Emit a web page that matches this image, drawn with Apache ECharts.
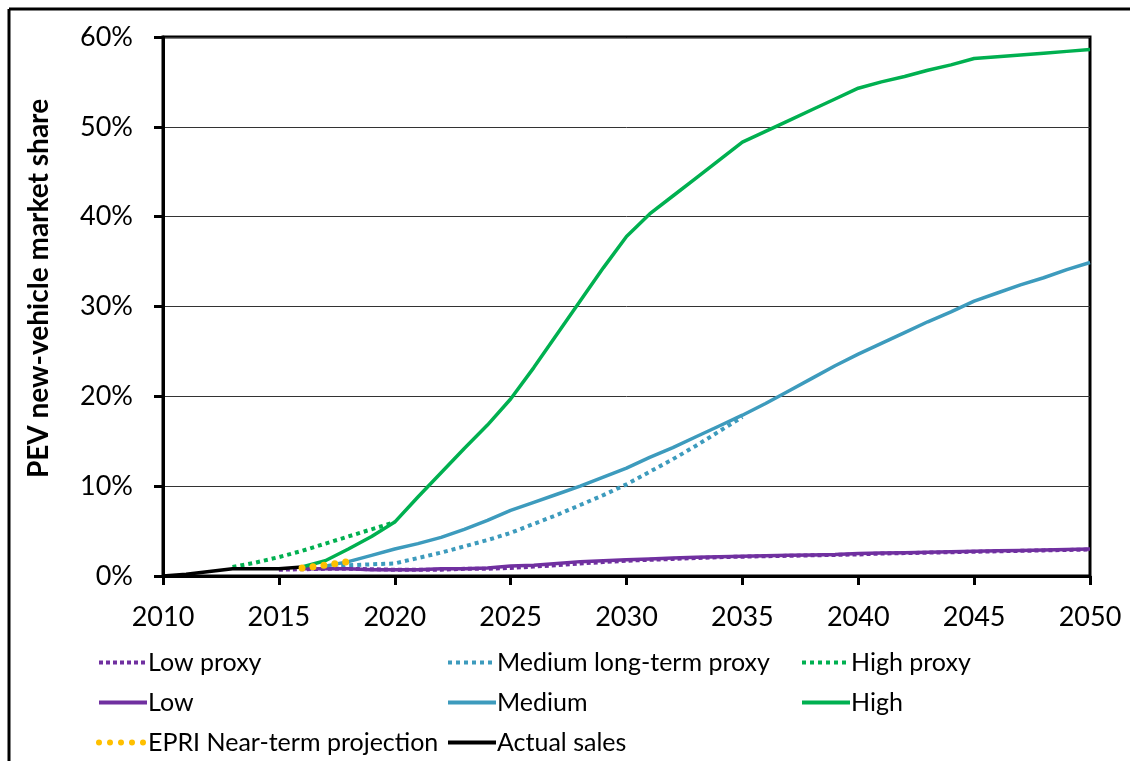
<!DOCTYPE html>
<html>
<head>
<meta charset="utf-8">
<script src="https://cdn.jsdelivr.net/npm/echarts@6/dist/echarts.min.js"></script>
<style>
  html, body { margin:0; padding:0; background:#fff; }
  #chart { width:1130px; height:761px; }
</style>
</head>
<body>
<div id="chart"></div>
<script>
// data, [year, share %]
var years = [2010,2011,2012,2013,2014,2015,2016,2017,2018,2019,2020,2021,2022,2023,2024,2025,2026,2027,2028,2029,2030,
  2031,2032,2033,2034,2035,2036,2037,2038,2039,2040,2041,2042,2043,2044,2045,2046,2047,2048,2049,2050];

var actualYears = [2010,2011,2012,2013,2014,2015,2016];
var actualSales = [0,0.2,0.5,0.8,0.8,0.8,1.0];

var epriYears = [2016,2017,2018];
var epriNearTerm = [0.9,1.2,1.6];

var highProxyYears = [2013,2014,2015,2016,2017,2018,2019,2020];
var highProxy = [1.0,1.5,2.1,2.8,3.6,4.4,5.2,6.0];

// High from 2016
var high = [1.0,1.7,3.0,4.4,6.0,8.8,11.5,14.2,16.8,19.7,23.2,26.9,30.6,34.3,37.8,
  40.3,42.3,44.3,46.3,48.3,49.5,50.7,51.9,53.1,54.3,55.0,55.6,56.3,56.9,57.6,57.8,58.0,58.2,58.4,58.6];

// Medium from 2017
var medium = [1.1,1.6,2.3,3.0,3.6,4.3,5.2,6.2,7.3,8.2,9.1,10.0,11.0,12.0,
  13.2,14.3,15.5,16.7,17.9,19.2,20.6,22.0,23.4,24.7,25.9,27.1,28.3,29.4,30.6,31.5,32.4,33.2,34.1,34.9];

// Medium long-term proxy from 2017 to 2035
var mediumProxy = [1.1,1.2,1.3,1.4,2.0,2.6,3.3,4.0,4.8,5.8,6.8,7.9,9.0,10.2,11.6,13.0,14.5,16.1,17.7];

// Low from 2016
var low = [0.8,0.8,0.8,0.7,0.7,0.7,0.8,0.8,0.9,1.1,1.2,1.4,1.6,1.7,1.8,
  1.9,2.0,2.1,2.15,2.2,2.25,2.3,2.35,2.4,2.5,2.55,2.6,2.65,2.7,2.75,2.8,2.85,2.9,2.95,3.0];

// Low proxy from 2015
var lowProxy = [0.7,0.75,0.8,0.8,0.75,0.7,0.7,0.7,0.8,0.8,0.9,1.05,1.2,1.4,1.55,1.7,1.8,
  1.9,2.0,2.1,2.15,2.2,2.25,2.3,2.35,2.4,2.5,2.55,2.6,2.65,2.7,2.75,2.8,2.85,2.9,2.95,3.05];

function pairs(xs, vs) {
  return vs.map(function(v, i){ return [xs[i], v]; });
}
function from(startYear, vs) {
  var s = years.indexOf(startYear);
  return pairs(years.slice(s), vs);
}

var green = '#00b050', blue = '#3d9bbd', purple = '#7030a0', gold = '#ffc000';
var font = 'Lato';

function lineSeries(name, data, color, type, width, z) {
  return {
    name: name, type: 'line', data: data, symbol: 'none', smooth: false, z: z,
    lineStyle: { color: color, width: width, type: type },
    itemStyle: { color: color }
  };
}

var series = [
  lineSeries('Low proxy', from(2015, lowProxy), purple, [4, 3], 4, 3),
  lineSeries('Medium long-term proxy', from(2017, mediumProxy), blue, [4, 4], 4, 3),
  lineSeries('High proxy', pairs(highProxyYears, highProxy), green, [4, 4], 4, 3),
  lineSeries('Low', from(2016, low), purple, 'solid', 3.5, 4),
  lineSeries('Medium', from(2017, medium), blue, 'solid', 3.5, 4),
  lineSeries('High', from(2016, high), green, 'solid', 3.5, 4),
  lineSeries('EPRI Near-term projection', pairs(epriYears, epriNearTerm), gold, [0, 11], 7, 10),
  lineSeries('Actual sales', pairs(actualYears, actualSales), '#000', 'solid', 3.5, 5)
];
series[6].lineStyle.cap = 'round';

function legendCol(left, names) {
  return {
    left: left, top: 650, orient: 'vertical', itemGap: 15, padding: 0,
    itemWidth: 48, itemHeight: 10,
    itemStyle: { opacity: 0 },
    lineStyle: { width: 4 },
    textStyle: { fontFamily: font, fontSize: 25, color: '#000', padding: [0, 0, 0, -4] },
    data: names.map(function(n){
      return n === 'EPRI Near-term projection' ? { name: n, lineStyle: { width: 6, cap: 'round', type: [0, 11] } } : n;
    })
  };
}

var chart = echarts.init(document.getElementById('chart'));
chart.setOption({
  animation: false,
  backgroundColor: '#fff',
  textStyle: { fontFamily: font },
  graphic: [
    { type: 'line', shape: { x1: 9, y1: 9, x2: 1130, y2: 9 }, style: { stroke: '#000', lineWidth: 3 } },
    { type: 'line', shape: { x1: 9, y1: 9, x2: 9, y2: 761 }, style: { stroke: '#000', lineWidth: 3 } }
  ],
  legend: [
    legendCol(96, ['Low proxy', 'Low', 'EPRI Near-term projection']),
    legendCol(446, ['Medium long-term proxy', 'Medium', 'Actual sales']),
    legendCol(800, ['High proxy', 'High'])
  ],
  grid: {
    left: 163, right: 40, top: 37, bottom: 185,
    show: true, borderColor: '#000', borderWidth: 3, backgroundColor: 'transparent'
  },
  xAxis: {
    type: 'value', min: 2010, max: 2050, interval: 5,
    axisLine: { show: true, lineStyle: { color: '#000', width: 3 } },
    axisTick: { show: true, inside: false, length: 9, lineStyle: { color: '#000', width: 3 } },
    axisLabel: { color: '#000', fontSize: 27, fontFamily: font, margin: 28,
      formatter: function(v){ return String(v); } },
    splitLine: { show: false }
  },
  yAxis: {
    type: 'value', min: 0, max: 60, interval: 10,
    name: 'PEV new-vehicle market share', nameLocation: 'middle', nameGap: 110,
    nameTextStyle: { color: '#000', fontSize: 28, fontWeight: 'bold', fontFamily: font, padding: [0, 0, 0, 36] },
    axisLine: { show: true, lineStyle: { color: '#000', width: 3 } },
    axisTick: { show: true, inside: false, length: 9, lineStyle: { color: '#000', width: 3 } },
    axisLabel: { color: '#000', fontSize: 27, fontFamily: font, margin: 30, formatter: '{value}%' },
    splitLine: { show: true, lineStyle: { color: '#333', width: 1 } }
  },
  series: series
});
</script>
</body>
</html>
